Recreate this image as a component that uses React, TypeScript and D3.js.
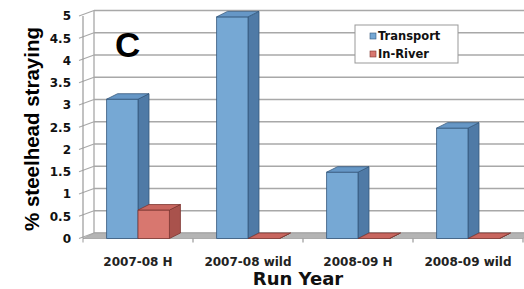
import React, { useRef, useEffect } from 'react'
import * as d3 from 'd3'

const categories = ['2007-08 H', '2007-08 wild', '2008-09 H', '2008-09 wild']
const seriesNames = ['Transport', 'In-River']
const transport = [3.13, 4.98, 1.49, 2.48]
const inRiver = [0.64, 0, 0, 0]
const yTicks = [0, 0.5, 1, 1.5, 2, 2.5, 3, 3.5, 4, 4.5, 5]

const colors: Record<string, { front: string; side: string; top: string; line: string }> = {
	Transport: { front: '#76a8d4', side: '#4f7aa6', top: '#6697c6', line: '#35587c' },
	'In-River': { front: '#d8776f', side: '#a9524c', top: '#c8665f', line: '#7e3631' },
}

const App = () => {
	const svgRef = useRef<SVGSVGElement>(null)

	useEffect(() => {
		const svg = d3.select(svgRef.current)
		svg.selectAll('*').remove()

		const width = 524
		const height = 289
		// przesunięcie głębi (efekt 3D)
		const dx = 11
		const dy = -5.5

		const x0 = d3.scaleBand<string>().domain(categories).range([83, 523])
		const x1 = d3
			.scaleBand<string>()
			.domain(seriesNames)
			.range([0, x0.bandwidth()])
			.paddingInner(0)
			.paddingOuter(0.75)
		const y = d3.scaleLinear().domain([0, 5]).range([238.5, 16])

		svg.attr('width', width).attr('height', height)

		// linie siatki na tylnej ścianie
		const grid = svg.append('g')
		yTicks.forEach(t => {
			grid
				.append('line')
				.attr('x1', x0.range()[0] + dx)
				.attr('x2', width)
				.attr('y1', y(t) + dy)
				.attr('y2', y(t) + dy)
				.attr('stroke', '#a8a8a8')
				.attr('stroke-width', 1.3)
			grid
				.append('line')
				.attr('x1', x0.range()[0] - 4)
				.attr('x2', x0.range()[0] + dx)
				.attr('y1', y(t))
				.attr('y2', y(t) + dy)
				.attr('stroke', '#a8a8a8')
				.attr('stroke-width', 1.2)
		})
		grid
			.append('line')
			.attr('x1', x0.range()[0] + dx)
			.attr('x2', x0.range()[0] + dx)
			.attr('y1', y(5) + dy)
			.attr('y2', y(0) + dy)
			.attr('stroke', '#a8a8a8')
			.attr('stroke-width', 1.3)

		// podłoga
		const fx0 = x0.range()[0]
		const fx1 = x0.range()[1]
		svg
			.append('polygon')
			.attr(
				'points',
				[
					[fx0, y(0)],
					[fx1, y(0)],
					[fx1 + dx, y(0) + dy],
					[fx0 + dx, y(0) + dy],
				].join(' ')
			)
			.attr('fill', '#b4b4b4')
			.attr('stroke', '#a0a0a0')
			.attr('stroke-width', 0.8)

		// oś Y z przodu
		svg
			.append('line')
			.attr('x1', fx0)
			.attr('x2', fx0)
			.attr('y1', y(5))
			.attr('y2', y(0))
			.attr('stroke', '#999')
			.attr('stroke-width', 1.2)

		// znaczniki osi X
		x0.domain().forEach((c, i) => {
			const xx = (x0(c) as number) + x0.bandwidth()
			svg
				.append('line')
				.attr('x1', xx)
				.attr('x2', xx)
				.attr('y1', y(0))
				.attr('y2', y(0) + 4)
				.attr('stroke', '#999')
				.attr('stroke-width', 1.2)
			if (i === 0) {
				svg
					.append('line')
					.attr('x1', fx0)
					.attr('x2', fx0)
					.attr('y1', y(0))
					.attr('y2', y(0) + 4)
					.attr('stroke', '#999')
			}
		})

		// słupki 3D
		const bars = svg.append('g')
		categories.forEach((c, i) => {
			const vals: Record<string, number> = { Transport: transport[i], 'In-River': inRiver[i] }
			seriesNames.forEach(s => {
				const col = colors[s]
				const bx = (x0(c) as number) + (x1(s) as number)
				const bw = x1.bandwidth()
				const top = y(vals[s])
				const bottom = y(0)
				const g = bars.append('g').attr('stroke', col.line).attr('stroke-width', 0.8).attr('stroke-linejoin', 'round')
				// bok
				g.append('polygon')
					.attr('points', [[bx + bw, top], [bx + bw + dx, top + dy], [bx + bw + dx, bottom + dy], [bx + bw, bottom]].join(' '))
					.attr('fill', col.side)
				// przód
				if (bottom - top > 0.5) {
					g.append('rect')
						.attr('x', bx)
						.attr('y', top)
						.attr('width', bw)
						.attr('height', bottom - top)
						.attr('fill', col.front)
				}
				// góra
				g.append('polygon')
					.attr('points', [[bx, top], [bx + bw, top], [bx + bw + dx, top + dy], [bx + dx, top + dy]].join(' '))
					.attr('fill', col.top)
			})
		})

		const font = 'DejaVu Sans, Verdana, sans-serif'

		// etykiety osi Y
		svg
			.append('g')
			.selectAll('text')
			.data(yTicks)
			.enter()
			.append('text')
			.attr('x', 71)
			.attr('y', d => y(d))
			.attr('dy', '0.36em')
			.attr('text-anchor', 'end')
			.attr('font-family', font)
			.attr('font-weight', 'bold')
			.attr('font-size', 12)
			.attr('fill', '#111')
			.text(d => String(d))

		// etykiety osi X
		svg
			.append('g')
			.selectAll('text')
			.data(categories)
			.enter()
			.append('text')
			.attr('x', d => (x0(d) as number) + x0.bandwidth() / 2)
			.attr('y', 266)
			.attr('text-anchor', 'middle')
			.attr('font-family', font)
			.attr('font-weight', 'bold')
			.attr('font-size', 12)
			.attr('fill', '#222')
			.text(d => d)

		// tytuł osi X
		svg
			.append('text')
			.attr('x', 298)
			.attr('y', 285)
			.attr('text-anchor', 'middle')
			.attr('font-family', font)
			.attr('font-weight', 'bold')
			.attr('font-size', 18)
			.attr('fill', '#111')
			.text('Run Year')

		// tytuł osi Y
		svg
			.append('text')
			.attr('transform', 'translate(39, 129) rotate(-90)')
			.attr('text-anchor', 'middle')
			.attr('font-family', 'Liberation Sans, Arial, sans-serif')
			.attr('font-weight', 'bold')
			.attr('font-size', 20.5)
			.attr('fill', '#000')
			.text('% steelhead straying')

		// litera panelu
		svg
			.append('text')
			.attr('x', 115)
			.attr('y', 57)
			.attr('font-family', 'Liberation Sans, Arial, sans-serif')
			.attr('font-weight', 'bold')
			.attr('font-size', 35)
			.attr('fill', '#000')
			.text('C')

		// legenda
		const legend = svg.append('g')
		legend
			.append('rect')
			.attr('x', 355)
			.attr('y', 25)
			.attr('width', 103)
			.attr('height', 38)
			.attr('fill', '#fff')
			.attr('stroke', '#999')
			.attr('stroke-width', 1)
		seriesNames.forEach((s, i) => {
			const ly = 36 + i * 18
			legend
				.append('rect')
				.attr('x', 370)
				.attr('y', ly - 3)
				.attr('width', 6)
				.attr('height', 6)
				.attr('fill', colors[s].front)
				.attr('stroke', colors[s].line)
				.attr('stroke-width', 0.6)
			legend
				.append('text')
				.attr('x', 378)
				.attr('y', ly)
				.attr('dy', '0.36em')
				.attr('font-family', font)
				.attr('font-weight', 'bold')
				.attr('font-size', 11.5)
				.attr('fill', '#111')
				.text(s)
		})
	}, [])

	return <svg ref={svgRef} style={{ position: 'absolute', left: 0, top: 0, background: '#fff' }}></svg>
}

export default App
